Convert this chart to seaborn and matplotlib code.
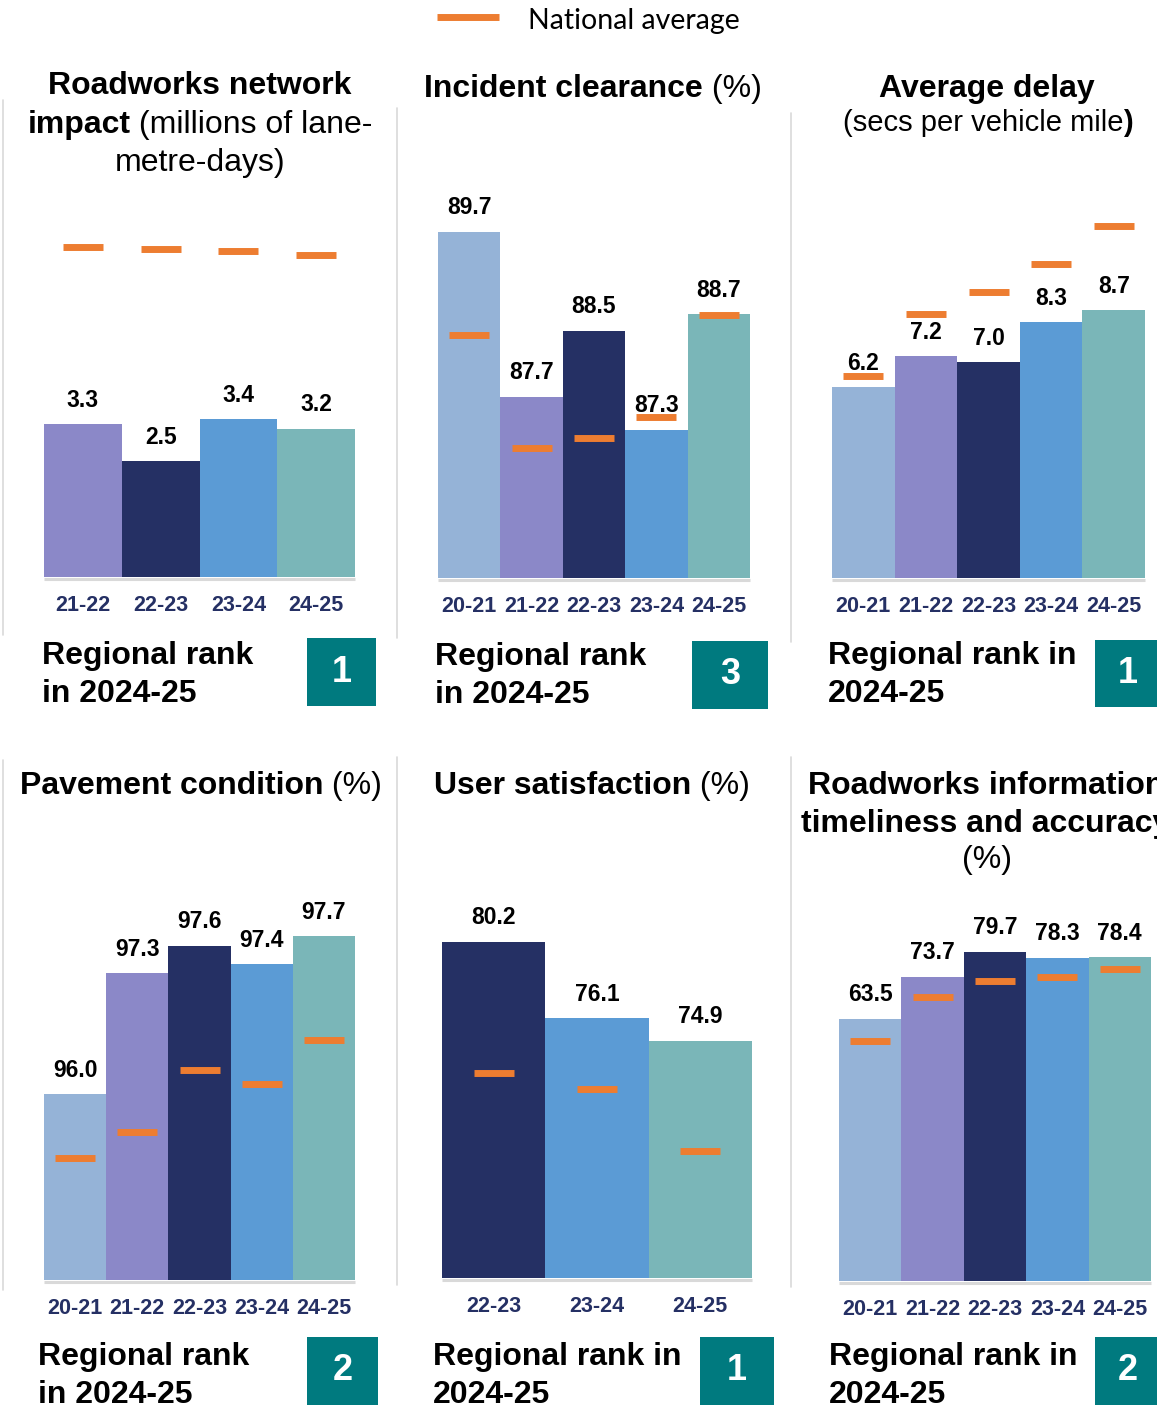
import matplotlib
matplotlib.use("Agg")
import matplotlib.pyplot as plt
import seaborn as sns
import pandas as pd
from matplotlib.lines import Line2D
from matplotlib.patches import Rectangle

sns.set_theme(style="white")
plt.rcParams["font.family"] = ["Liberation Sans", "DejaVu Sans"]

# ---------------------------------------------------------------- data
roadworks_years = ["21-22", "22-23", "23-24", "24-25"]
roadworks_values = [3.3, 2.5, 3.4, 3.2]
roadworks_national = [7.11, 7.07, 7.03, 6.94]
roadworks_rank = 1

incident_years = ["20-21", "21-22", "22-23", "23-24", "24-25"]
incident_values = [89.7, 87.7, 88.5, 87.3, 88.7]
incident_national = [88.45, 87.07, 87.2, 87.45, 88.69]
incident_rank = 3

delay_years = ["20-21", "21-22", "22-23", "23-24", "24-25"]
delay_values = [6.2, 7.2, 7.0, 8.3, 8.7]
delay_national = [6.56, 8.57, 9.29, 10.19, 11.43]
delay_rank = 1

pavement_years = ["20-21", "21-22", "22-23", "23-24", "24-25"]
pavement_values = [96.0, 97.3, 97.6, 97.4, 97.7]
pavement_national = [95.31, 95.59, 96.26, 96.11, 96.58]
pavement_rank = 2

satisfaction_years = ["22-23", "23-24", "24-25"]
satisfaction_values = [80.2, 76.1, 74.9]
satisfaction_national = [73.2, 72.3, 69.0]
satisfaction_rank = 1

info_years = ["20-21", "21-22", "22-23", "23-24", "24-25"]
info_values = [63.5, 73.7, 79.7, 78.3, 78.4]
info_national = [58.1, 68.8, 72.6, 73.6, 75.5]
info_rank = 2

# ---------------------------------------------------------------- style
YEAR_COLOURS = {
    "20-21": "#95B3D7",
    "21-22": "#8B88C8",
    "22-23": "#253064",
    "23-24": "#5B9BD5",
    "24-25": "#7AB6B8",
}
AVG_COLOUR = "#ED7D31"
RANK_COLOUR = "#007A7F"
TICK_COLOUR = "#253064"
LIGHT_GREY = "#D9D9D9"
TITLE_SIZE = 23

W, H, DPI = 1157, 1405, 100
fig = plt.figure(figsize=(W / DPI, H / DPI), dpi=DPI)
fig.patch.set_facecolor("white")


def fx(px):
    return px / W


def fy(py):
    return 1 - py / H


def draw_panel(x0, x1, base, top, ymin, ppu, years, values, national):
    ax = fig.add_axes([fx(x0), fy(base), (x1 - x0) / W, (base - top) / H])
    df = pd.DataFrame({"year": years, "value": values})
    sns.barplot(data=df, x="year", y="value", hue="year", palette=YEAR_COLOURS,
                width=1.0, saturation=1, linewidth=0, legend=False, ax=ax, zorder=2)
    ax.set_xlim(-0.5, len(years) - 0.5)
    ax.set_ylim(ymin, ymin + (base - top) / ppu)
    ax.patch.set_alpha(0)
    for s in ax.spines.values():
        s.set_visible(False)
    ax.set_yticks([])
    ax.set_xlabel("")
    ax.set_ylabel("")
    ax.tick_params(axis="x", length=0, pad=13, labelsize=15.5, labelcolor=TICK_COLOUR)
    for lab in ax.get_xticklabels():
        lab.set_fontweight("bold")

    # national average markers, ~40 px wide
    half = 20 / ((x1 - x0) / len(years))
    xs = list(range(len(years)))
    lc = ax.hlines(national, [i - half for i in xs], [i + half for i in xs],
                   colors=AVG_COLOUR, linewidth=5, zorder=3)
    lc.set_capstyle("butt")

    for i, v in enumerate(values):
        ax.annotate(f"{v:.1f}", (i, v), xytext=(0, 12.5), textcoords="offset points",
                    ha="center", va="baseline", fontsize=16.5, fontweight="bold",
                    color="black", zorder=5, annotation_clip=False)

    # grey base rule under the bars
    fig.add_artist(Line2D([fx(x0), fx(x1)], [fy(base + 1.5)] * 2,
                          color=LIGHT_GREY, linewidth=2.2, solid_capstyle="butt"))
    return ax


renderer = fig.canvas.get_renderer()


def rich_line(segments, cx, baseline, size):
    texts = [fig.text(0, fy(baseline), s, fontsize=size, fontweight=w,
                      ha="left", va="baseline", color="black") for s, w in segments]
    widths = [t.get_window_extent(renderer).width for t in texts]
    x = cx - sum(widths) / 2
    for t, w in zip(texts, widths):
        t.set_x(fx(x))
        x += w


def rank_block(tx, baselines, lines, box, number):
    for line, b in zip(lines, baselines):
        fig.text(fx(tx), fy(b), line, fontsize=23, fontweight="bold",
                 ha="left", va="baseline", color="black")
    bx0, by0, bx1, by1 = box
    fig.add_artist(Rectangle((fx(bx0), fy(by1)), (bx1 - bx0) / W, (by1 - by0) / H,
                             transform=fig.transFigure, facecolor=RANK_COLOUR,
                             edgecolor="none"))
    fig.text(fx((bx0 + bx1) / 2), fy((by0 + by1) / 2), str(number), fontsize=26,
             fontweight="bold", color="white", ha="center", va="center")


def separator(x, y0, y1):
    fig.add_artist(Line2D([fx(x)] * 2, [fy(y0), fy(y1)], color=LIGHT_GREY, linewidth=1.2))


# ---------------------------------------------------------------- legend
fig.add_artist(Line2D([fx(437), fx(499)], [fy(17)] * 2, color=AVG_COLOUR,
                      linewidth=5, solid_capstyle="butt"))
fig.text(fx(528), fy(21), "National average", fontsize=20.5, color="black",
         ha="left", va="center", family=["Lato", "DejaVu Sans"])

# ---------------------------------------------------------------- separators
for x, (a, b) in [(3, (100, 635)), (397, (108, 638)), (791, (113, 642)),
                  (3, (760, 1290)), (397, (757, 1285)), (791, (757, 1287))]:
    separator(x, a, b)

# ---------------------------------------------------------------- top row
draw_panel(44, 355, 577, 180, 0.0, 46.4, roadworks_years, roadworks_values, roadworks_national)
rich_line([("Roadworks network", "bold")], 200, 94, TITLE_SIZE)
rich_line([("impact", "bold"), (" (millions of lane-", "normal")], 200, 133, TITLE_SIZE)
rich_line([("metre-days)", "normal")], 200, 171, TITLE_SIZE)
rank_block(42, [664, 702], ["Regional rank", "in 2024-25"], (307, 638, 376, 706), roadworks_rank)

draw_panel(438, 750, 578, 180, 85.5, 82.5, incident_years, incident_values, incident_national)
rich_line([("Incident clearance", "bold"), (" (%)", "normal")], 593, 97, TITLE_SIZE)
rank_block(435, [665, 703], ["Regional rank", "in 2024-25"], (692, 641, 768, 709), incident_rank)

draw_panel(832, 1145, 578, 180, 0.0, 30.8, delay_years, delay_values, delay_national)
rich_line([("Average delay", "bold")], 987, 97, TITLE_SIZE)
rich_line([("(secs per vehicle mile", "normal"), (")", "bold")], 988, 131, 21)
rank_block(828, [664, 702], ["Regional rank in", "2024-25"], (1095, 640, 1160, 707), delay_rank)

# ---------------------------------------------------------------- bottom row
draw_panel(44, 355, 1280, 880, 94.0, 92.9, pavement_years, pavement_values, pavement_national)
rich_line([("Pavement condition", "bold"), (" (%)", "normal")], 201, 794, TITLE_SIZE)
rank_block(38, [1365, 1403], ["Regional rank", "in 2024-25"], (307, 1337, 378, 1405), pavement_rank)

draw_panel(442, 752, 1278, 880, 62.2, 18.68, satisfaction_years, satisfaction_values, satisfaction_national)
rich_line([("User satisfaction", "bold"), (" (%)", "normal")], 592, 794, TITLE_SIZE)
rank_block(433, [1365, 1403], ["Regional rank in", "2024-25"], (700, 1337, 774, 1405), satisfaction_rank)

draw_panel(839, 1151, 1281, 880, 0.0, 4.13, info_years, info_values, info_national)
rich_line([("Roadworks information", "bold")], 986, 794, TITLE_SIZE)
rich_line([("timeliness and accuracy", "bold")], 986, 832, TITLE_SIZE)
rich_line([("(%)", "normal")], 987, 868, TITLE_SIZE)
rank_block(829, [1365, 1403], ["Regional rank in", "2024-25"], (1095, 1337, 1160, 1405), info_rank)

fig.savefig("out.png", dpi=DPI, facecolor="white")
